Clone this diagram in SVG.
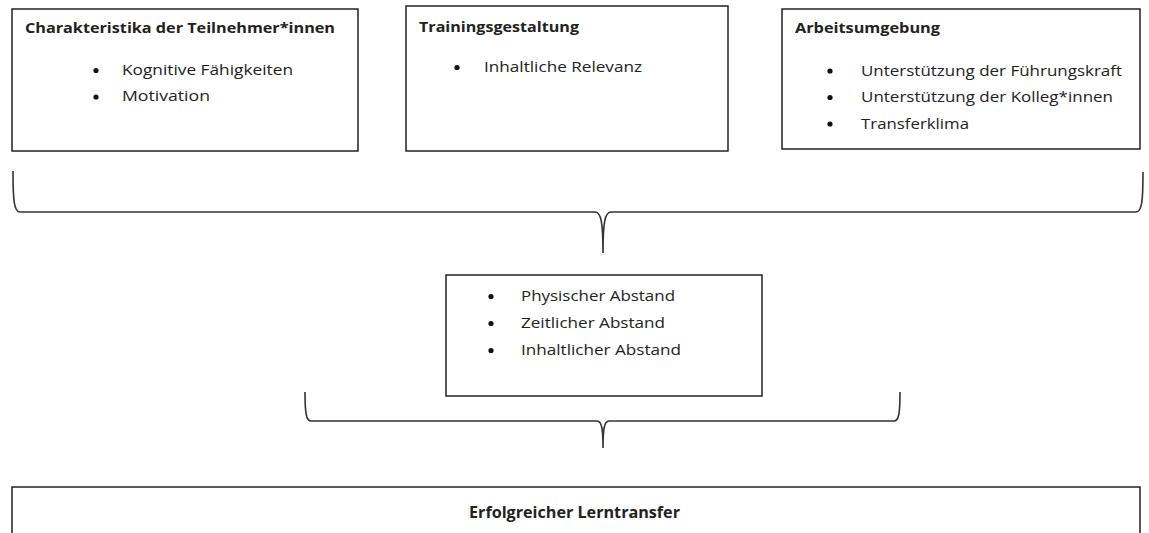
<svg xmlns="http://www.w3.org/2000/svg" width="1149" height="533" viewBox="0 0 1149 533">
<style>
.box{fill:#fff;stroke:#222;stroke-width:1.5}
.t{font-family:"Open Sans","Liberation Sans",sans-serif;font-size:14.5px;fill:#222}
.b{font-weight:bold}
.dot{fill:#111}
.br{fill:none;stroke:#333;stroke-width:1.6}
</style>
<rect width="1149" height="533" fill="#fff"/>
<g id="teilnehmer">
<rect class="box" x="12" y="9" width="346" height="142"/>
<text class="t b" x="25" y="33" textLength="310" lengthAdjust="spacingAndGlyphs">Charakteristika der Teilnehmer*innen</text>
<circle class="dot" cx="96" cy="70.5" r="2.6"/>
<text class="t" x="122" y="75" textLength="171" lengthAdjust="spacingAndGlyphs">Kognitive Fähigkeiten</text>
<circle class="dot" cx="96" cy="97" r="2.6"/>
<text class="t" x="122" y="101" textLength="88" lengthAdjust="spacingAndGlyphs">Motivation</text>
</g>
<g id="training">
<rect class="box" x="406" y="6" width="322" height="145"/>
<text class="t b" x="419" y="32" textLength="160" lengthAdjust="spacingAndGlyphs">Trainingsgestaltung</text>
<circle class="dot" cx="457" cy="67.5" r="2.6"/>
<text class="t" x="484" y="72" textLength="158" lengthAdjust="spacingAndGlyphs">Inhaltliche Relevanz</text>
</g>
<g id="arbeit">
<rect class="box" x="782" y="9" width="358" height="140"/>
<text class="t b" x="795" y="33" textLength="145" lengthAdjust="spacingAndGlyphs">Arbeitsumgebung</text>
<circle class="dot" cx="830" cy="71" r="2.6"/>
<text class="t" x="861" y="76" textLength="261" lengthAdjust="spacingAndGlyphs">Unterstützung der Führungskraft</text>
<circle class="dot" cx="830" cy="97.5" r="2.6"/>
<text class="t" x="861" y="102" textLength="252" lengthAdjust="spacingAndGlyphs">Unterstützung der Kolleg*innen</text>
<circle class="dot" cx="830" cy="124" r="2.6"/>
<text class="t" x="861" y="128.5" textLength="108" lengthAdjust="spacingAndGlyphs">Transferklima</text>
</g>
<g id="abstand">
<rect class="box" x="446" y="275" width="316" height="121"/>
<circle class="dot" cx="491" cy="296.5" r="2.6"/>
<text class="t" x="521" y="301" textLength="154" lengthAdjust="spacingAndGlyphs">Physischer Abstand</text>
<circle class="dot" cx="491" cy="323.5" r="2.6"/>
<text class="t" x="521" y="328" textLength="144" lengthAdjust="spacingAndGlyphs">Zeitlicher Abstand</text>
<circle class="dot" cx="491" cy="350.5" r="2.6"/>
<text class="t" x="521" y="355" textLength="160" lengthAdjust="spacingAndGlyphs">Inhaltlicher Abstand</text>
</g>
<g id="lerntransfer">
<rect class="box" x="12" y="487" width="1128" height="60"/>
<text class="t b" x="469" y="518" textLength="211" lengthAdjust="spacingAndGlyphs" style="font-size:15.5px">Erfolgreicher Lerntransfer</text>
</g>
<g id="connectors">
<path class="br" d="M13,171 C13,200 14,212 20,212 L595,212 C601,212 603,222 603,253 C603,222 605,212 611,212 L1136,212 C1142,212 1143,200 1143,172"/>
<path class="br" d="M305,392 C305,412 306,421 311,421 L597,421 C602,421 603,430 603,448 C603,430 604,421 609,421 L894,421 C899,421 900,412 900,392"/>
</g>
</svg>
